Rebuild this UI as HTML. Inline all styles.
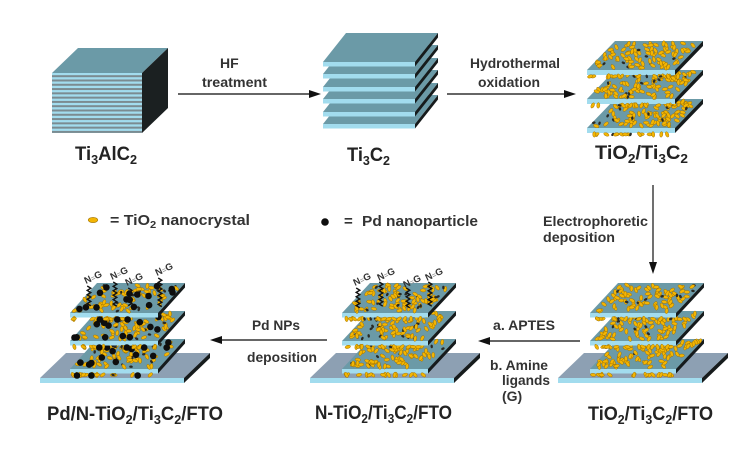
<!DOCTYPE html>
<html><head><meta charset="utf-8">
<style>
html,body{margin:0;padding:0;background:#fff;}
svg{display:block;}
text{font-family:"Liberation Sans",Arial,sans-serif;font-weight:bold;fill:#2b2b2b;}
.m{font-size:19px;fill:#232323;}
.s{font-size:14px;fill:#333;}
.ng{font-size:9.5px;fill:#333;}
</style></head><body>
<svg width="754" height="449" viewBox="0 0 754 449" xmlns="http://www.w3.org/2000/svg">
<rect width="754" height="449" fill="#fff"/>
<g id="shapes"></g>

<!-- arrows -->
<g stroke="#333" stroke-width="1.4" fill="none">
<line x1="178" y1="94" x2="311" y2="94"/>
<line x1="447" y1="94" x2="566" y2="94"/>
<line x1="653" y1="185" x2="653" y2="264"/>
<line x1="580" y1="341" x2="488" y2="341"/>
<line x1="327" y1="340" x2="220" y2="340"/>
</g>
<g fill="#111">
<polygon points="321,94 309,90 309,98"/>
<polygon points="576,94 564,90 564,98"/>
<polygon points="653,274 649,262 657,262"/>
<polygon points="478,341 490,337 490,345"/>
<polygon points="210,340 222,336 222,344"/>
</g>

<!-- legend icons -->
<ellipse cx="93" cy="220" rx="4.8" ry="2.6" fill="#f3b503" stroke="#9a6d00" stroke-width="0.6"/>
<circle cx="325" cy="222" r="3.8" fill="#0e0e0e"/>

<!-- main labels -->
<text class="m" x="75" y="160" textLength="62" lengthAdjust="spacingAndGlyphs">Ti<tspan dy="4" font-size="13">3</tspan><tspan dy="-4">AlC</tspan><tspan dy="4" font-size="13">2</tspan></text>
<text class="m" x="347" y="161" textLength="43" lengthAdjust="spacingAndGlyphs">Ti<tspan dy="4" font-size="13">3</tspan><tspan dy="-4">C</tspan><tspan dy="4" font-size="13">2</tspan></text>
<text class="m" x="595" y="159" textLength="93" lengthAdjust="spacingAndGlyphs">TiO<tspan dy="4" font-size="13">2</tspan><tspan dy="-4">/Ti</tspan><tspan dy="4" font-size="13">3</tspan><tspan dy="-4">C</tspan><tspan dy="4" font-size="13">2</tspan></text>
<text class="m" x="47" y="420" textLength="176" lengthAdjust="spacingAndGlyphs">Pd/N-TiO<tspan dy="4" font-size="13">2</tspan><tspan dy="-4">/Ti</tspan><tspan dy="4" font-size="13">3</tspan><tspan dy="-4">C</tspan><tspan dy="4" font-size="13">2</tspan><tspan dy="-4">/FTO</tspan></text>
<text class="m" x="315" y="419" textLength="137" lengthAdjust="spacingAndGlyphs">N-TiO<tspan dy="4" font-size="13">2</tspan><tspan dy="-4">/Ti</tspan><tspan dy="4" font-size="13">3</tspan><tspan dy="-4">C</tspan><tspan dy="4" font-size="13">2</tspan><tspan dy="-4">/FTO</tspan></text>
<text class="m" x="588" y="420" textLength="125" lengthAdjust="spacingAndGlyphs">TiO<tspan dy="4" font-size="13">2</tspan><tspan dy="-4">/Ti</tspan><tspan dy="4" font-size="13">3</tspan><tspan dy="-4">C</tspan><tspan dy="4" font-size="13">2</tspan><tspan dy="-4">/FTO</tspan></text>

<!-- small labels -->
<text class="s" x="220" y="68">HF</text>
<text class="s" x="202" y="87" textLength="65" lengthAdjust="spacingAndGlyphs">treatment</text>
<text class="s" x="470" y="68" textLength="90" lengthAdjust="spacingAndGlyphs">Hydrothermal</text>
<text class="s" x="478" y="87" textLength="62" lengthAdjust="spacingAndGlyphs">oxidation</text>
<text class="s" x="543" y="226" textLength="105" lengthAdjust="spacingAndGlyphs">Electrophoretic</text>
<text class="s" x="543" y="242" textLength="72" lengthAdjust="spacingAndGlyphs">deposition</text>
<text class="s" x="493" y="330" textLength="62" lengthAdjust="spacingAndGlyphs">a. APTES</text>
<text class="s" x="490" y="370" textLength="58" lengthAdjust="spacingAndGlyphs">b. Amine</text>
<text class="s" x="502" y="385" textLength="48" lengthAdjust="spacingAndGlyphs">ligands</text>
<text class="s" x="502" y="401">(G)</text>
<text class="s" x="252" y="330" textLength="48" lengthAdjust="spacingAndGlyphs">Pd NPs</text>
<text class="s" x="247" y="362" textLength="70" lengthAdjust="spacingAndGlyphs">deposition</text>
<text class="s" style="font-size:15px" x="110" y="225" textLength="140" lengthAdjust="spacingAndGlyphs">= TiO<tspan dy="3" font-size="10.5">2</tspan><tspan dy="-3"> nanocrystal</tspan></text>
<text class="s" style="font-size:15px" x="344" y="226">=</text>
<text class="s" style="font-size:15px" x="362" y="226" textLength="116" lengthAdjust="spacingAndGlyphs">Pd nanoparticle</text>

<!-- N=G labels -->
<g>
<text class="ng" transform="translate(355,286) rotate(-25)">N<tspan font-size="7" fill="#999">=</tspan>G</text>
<text class="ng" transform="translate(379,281) rotate(-25)">N<tspan font-size="7" fill="#999">=</tspan>G</text>
<text class="ng" transform="translate(405,288) rotate(-25)">N<tspan font-size="7" fill="#999">=</tspan>G</text>
<text class="ng" transform="translate(427,281) rotate(-25)">N<tspan font-size="7" fill="#999">=</tspan>G</text>
<text class="ng" transform="translate(86,284) rotate(-25)">N<tspan font-size="7" fill="#999">=</tspan>G</text>
<text class="ng" transform="translate(112,280) rotate(-25)">N<tspan font-size="7" fill="#999">=</tspan>G</text>
<text class="ng" transform="translate(127,286) rotate(-25)">N<tspan font-size="7" fill="#999">=</tspan>G</text>
<text class="ng" transform="translate(157,276) rotate(-25)">N<tspan font-size="7" fill="#999">=</tspan>G</text>
</g>
</svg>
<script>
(function(){
var NS='http://www.w3.org/2000/svg',root=document.getElementById('shapes');
function el(t,a,p){var e=document.createElementNS(NS,t);for(var k in a)e.setAttribute(k,a[k]);(p||root).appendChild(e);return e;}
var s=7;function r(){s=(s*16807)%2147483647;return (s-1)/2147483646;}
function poly(pts,f){el('polygon',{points:pts.map(function(p){return p[0].toFixed(2)+','+p[1].toFixed(2);}).join(' '),fill:f});}
var TOP='#6b9aa7',FR='#a2dcee',SD='#161b1c',BASE='#8da0b3';
function gold(x,y){var a=(r()*180-90).toFixed(0);var dark=r()<0.12;
 var X=x.toFixed(1),Y=y.toFixed(1);
 el('ellipse',{cx:X,cy:Y,rx:dark?1.8:2.8,ry:dark?1.2:1.55,fill:dark?'#2a2a24':'#f3b503',stroke:dark?'none':'#9a6d00','stroke-width':0.45,transform:'rotate('+a+' '+X+' '+Y+')'});}
function pd(x,y){el('circle',{cx:x.toFixed(1),cy:y.toFixed(1),r:3.3,fill:'#0e0e0e'});}
function sheet(x0,yf,w,dx,dy,t,o){o=o||{};
 poly([[x0,yf],[x0+w,yf],[x0+w+dx,yf-dy],[x0+dx,yf-dy]],o.top||TOP);
 el('rect',{x:x0,y:yf,width:w,height:t,fill:o.fr||FR});
 poly([[x0+w,yf],[x0+w+dx,yf-dy],[x0+w+dx,yf-dy+t],[x0+w,yf+t]],SD);
 var i,u,v;
 if(o.np){for(i=0;i<o.np;i++){u=r();v=r();gold(x0+3+u*(w-7)+v*dx,yf-2-v*(dy-4));}
  for(i=0;i<Math.round(w/5);i++){gold(x0+3+r()*(w-6),yf+t+1.4);}}
 if(o.pd){for(i=0;i<o.pd;i++){u=r();v=r();pd(x0+4+u*(w-9)+v*dx,yf-3-v*(dy-6));}
  for(i=0;i<3;i++){pd(x0+6+r()*(w-12),yf+t+2);}}
}
function zig(x,y1,y2){var pts=[],k=0;for(var y=y1;y<=y2;y+=2.2){pts.push((x+(k%2?1.8:-1.8)).toFixed(1)+','+y.toFixed(1));k++;}
 el('polyline',{points:pts.join(' '),fill:'none',stroke:'#111','stroke-width':1.4});}

/* Ti3AlC2 cube */
poly([[52,73],[142,73],[168,48],[78,48]],TOP);
el('rect',{x:52,y:73,width:90,height:60,fill:FR});
for(var i=0;i<14;i++){el('rect',{x:52,y:(73+i*4.286+2.2).toFixed(2),width:90,height:2,fill:'#7b8b91'});}
poly([[142,73],[168,48],[168,108],[142,133]],'#1b2021');

/* Ti3C2 */
[124,112,99,87,74,62].forEach(function(y){sheet(323,y,92,23,29,4.5);});

/* TiO2/Ti3C2 */
[128,99,70].forEach(function(y){sheet(587,y,88,28,29,5,{np:95});});

/* TiO2/Ti3C2/FTO */
sheet(558,378,144,26,25,5,{top:BASE});
[369,341,313].forEach(function(y){sheet(590,y,86,28,30,4.5,{np:90});});

/* N-TiO2 */
sheet(310,378,144,26,25,5,{top:BASE});
[369,341,313].forEach(function(y){sheet(342,y,86,28,30,4.5,{np:90});});
[358,381,408,430].forEach(function(x,j){zig(x,(j%2?282:288),308);});

/* Pd/N-TiO2 */
sheet(40,378,144,26,25,5,{top:BASE});
[369,341,313].forEach(function(y){sheet(70,y,88,27,30,4.5,{np:75,pd:15});});
[89,115,130,160].forEach(function(x,j){zig(x,[286,282,288,278][j],307);});
})();
</script>
</body></html>
